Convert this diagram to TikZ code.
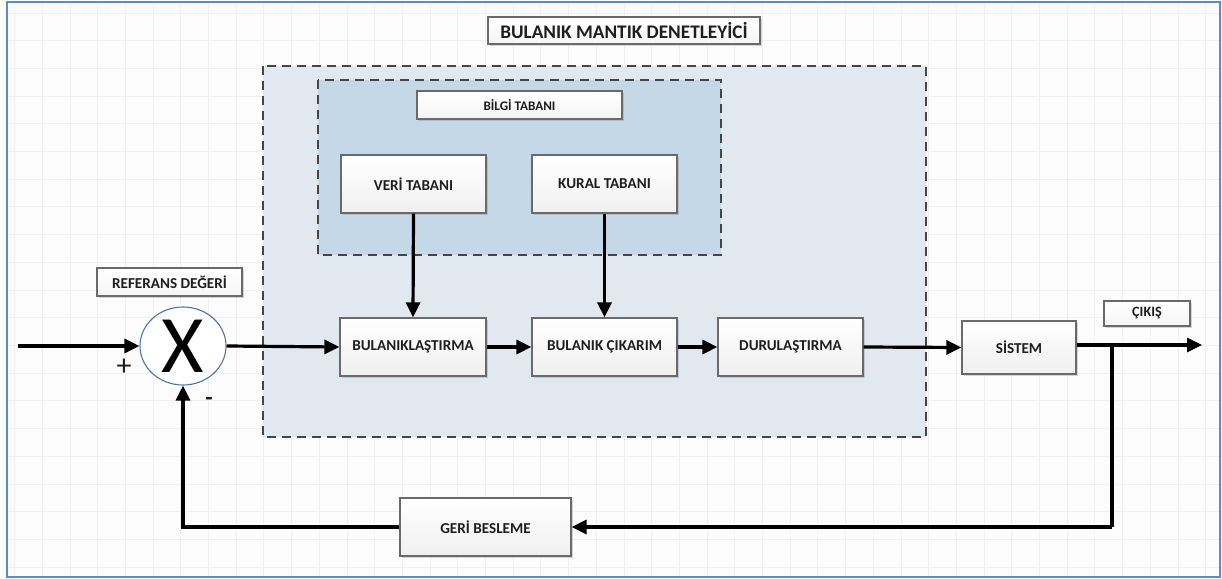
\documentclass[tikz,border=0pt]{standalone}
\usepackage{fontspec}
\setmainfont{Carlito}
\usetikzlibrary{arrows.meta,shapes.geometric,shadows}
\definecolor{framecol}{HTML}{5B8BC9}
\definecolor{paper}{HTML}{FCFCFC}
\definecolor{gridcol}{HTML}{F0F0F0}
\definecolor{outerfill}{HTML}{E1E8F0}
\definecolor{innerfill}{HTML}{C5D8E8}
\definecolor{dashcol}{HTML}{454545}
\definecolor{boxline}{HTML}{6A6A6A}
\definecolor{txt}{HTML}{1E1E1E}
\tikzset{
  blockbox/.style={draw=boxline, line width=1.2bp, top color=white, bottom color=gray!12,
    drop shadow={shadow xshift=1.5bp, shadow yshift=-1.8bp, opacity=0.3},
    inner sep=0pt, font=\bfseries\fontsize{15.2}{16}\selectfont, text=txt},
  labelbox/.style={blockbox, bottom color=gray!8},
  dashedbox/.style={draw=dashcol, line width=1.4bp, dash pattern=on 9bp off 6bp},
  flow/.style={line width=3.2bp, -{Triangle[length=15bp,width=14bp]}},
  wire/.style={line width=3.2bp}
}
\begin{document}
\begin{tikzpicture}[x=1bp,y=-1bp]
\useasboundingbox (0,0) rectangle (1222,579);
% sheet with faint grid and blue frame
\fill[paper] (7,2) rectangle (1220,577);
\begin{scope}
\clip (7,2) rectangle (1220,577);
\foreach \i in {0,...,44} \draw[gridcol, line width=0.8bp] ({14.5+27.7*\i},2) -- ({14.5+27.7*\i},577);
\foreach \j in {0,...,21} \draw[gridcol, line width=0.8bp] (7,{13+27.7*\j}) -- (1220,{13+27.7*\j});
\end{scope}
\draw[framecol, line width=2.6bp] (7,2) rectangle (1220,577);

% controller regions
\draw[dashedbox, fill=outerfill] (263,66) rectangle (926,437);
\draw[dashedbox, fill=innerfill] (318,80) rectangle (721,255);

% blocks
\node[labelbox, minimum width=272bp, minimum height=27bp, font=\bfseries\fontsize{19.3}{20}\selectfont] (title) at (624,30.5) {BULANIK MANTIK DENETLEYİCİ};
\node[labelbox, minimum width=205bp, minimum height=28bp, font=\bfseries\fontsize{13.2}{14}\selectfont] (bilgi) at (519.5,105) {BİLGİ TABANI};
\node[blockbox, minimum width=145bp, minimum height=58bp] (veri) at (413.5,184) {VERİ TABANI};
\node[blockbox, minimum width=145bp, minimum height=58bp] (kural) at (604.5,184) {KURAL TABANI};
\node[blockbox, minimum width=146bp, minimum height=58bp] (bul) at (413,347) {BULANIKLAŞTIRMA};
\node[blockbox, minimum width=145bp, minimum height=58bp] (cik) at (604.5,347) {BULANIK ÇIKARIM};
\node[blockbox, minimum width=145bp, minimum height=58bp] (duru) at (790.5,347) {DURULAŞTIRMA};
\node[blockbox, minimum width=114bp, minimum height=53bp] (sis) at (1019,347.5) {SİSTEM};
\node[labelbox, minimum width=86bp, minimum height=25bp, font=\bfseries\fontsize{14.3}{15}\selectfont] (cikis) at (1147,313.5) {ÇIKIŞ};
\node[labelbox, minimum width=145bp, minimum height=28bp] (ref) at (169.5,282) {REFERANS DEĞERİ};
\node[blockbox, minimum width=171bp, minimum height=58bp] (geri) at (485.5,527) {GERİ BESLEME};
\node[ellipse, draw=framecol!85!black, line width=1.1bp, fill=white, minimum width=86bp, minimum height=78bp, inner sep=0pt, font=\fontsize{82}{82}\selectfont] (sum) at (183,346) {\raisebox{-1bp}{X}};

% signs at the summing junction
\node[inner sep=0pt, font=\fontsize{30}{30}\selectfont, text=txt] (plus) at (124,367) {+};
\node[inner sep=0pt, font=\bfseries\fontsize{24}{24}\selectfont, text=txt] (minus) at (209,401) {-};

% signal path
\coordinate (in) at (18,346);
\coordinate (out) at (1202,345);
\coordinate (branch) at (1112,345);
\coordinate (branchlow) at (1112,527);
\draw[flow] (in) -- (sum.west);
\draw[flow] (sum.east) -- (bul.west);
\draw[flow] (bul) -- (cik);
\draw[flow] (cik) -- (duru);
\draw[flow] (duru.east) -- (sis.west);
\draw[flow] (veri.south) -- (bul.north);
\draw[flow] (kural.south) -- (cik.north);
\draw[flow] (sis.east |- out) -- (out);
\draw[wire] (branch) -- (branchlow);
\draw[flow] (branchlow) -- (geri.east);
\draw[flow] (geri.west) -| (sum.south);
\end{tikzpicture}
\end{document}
